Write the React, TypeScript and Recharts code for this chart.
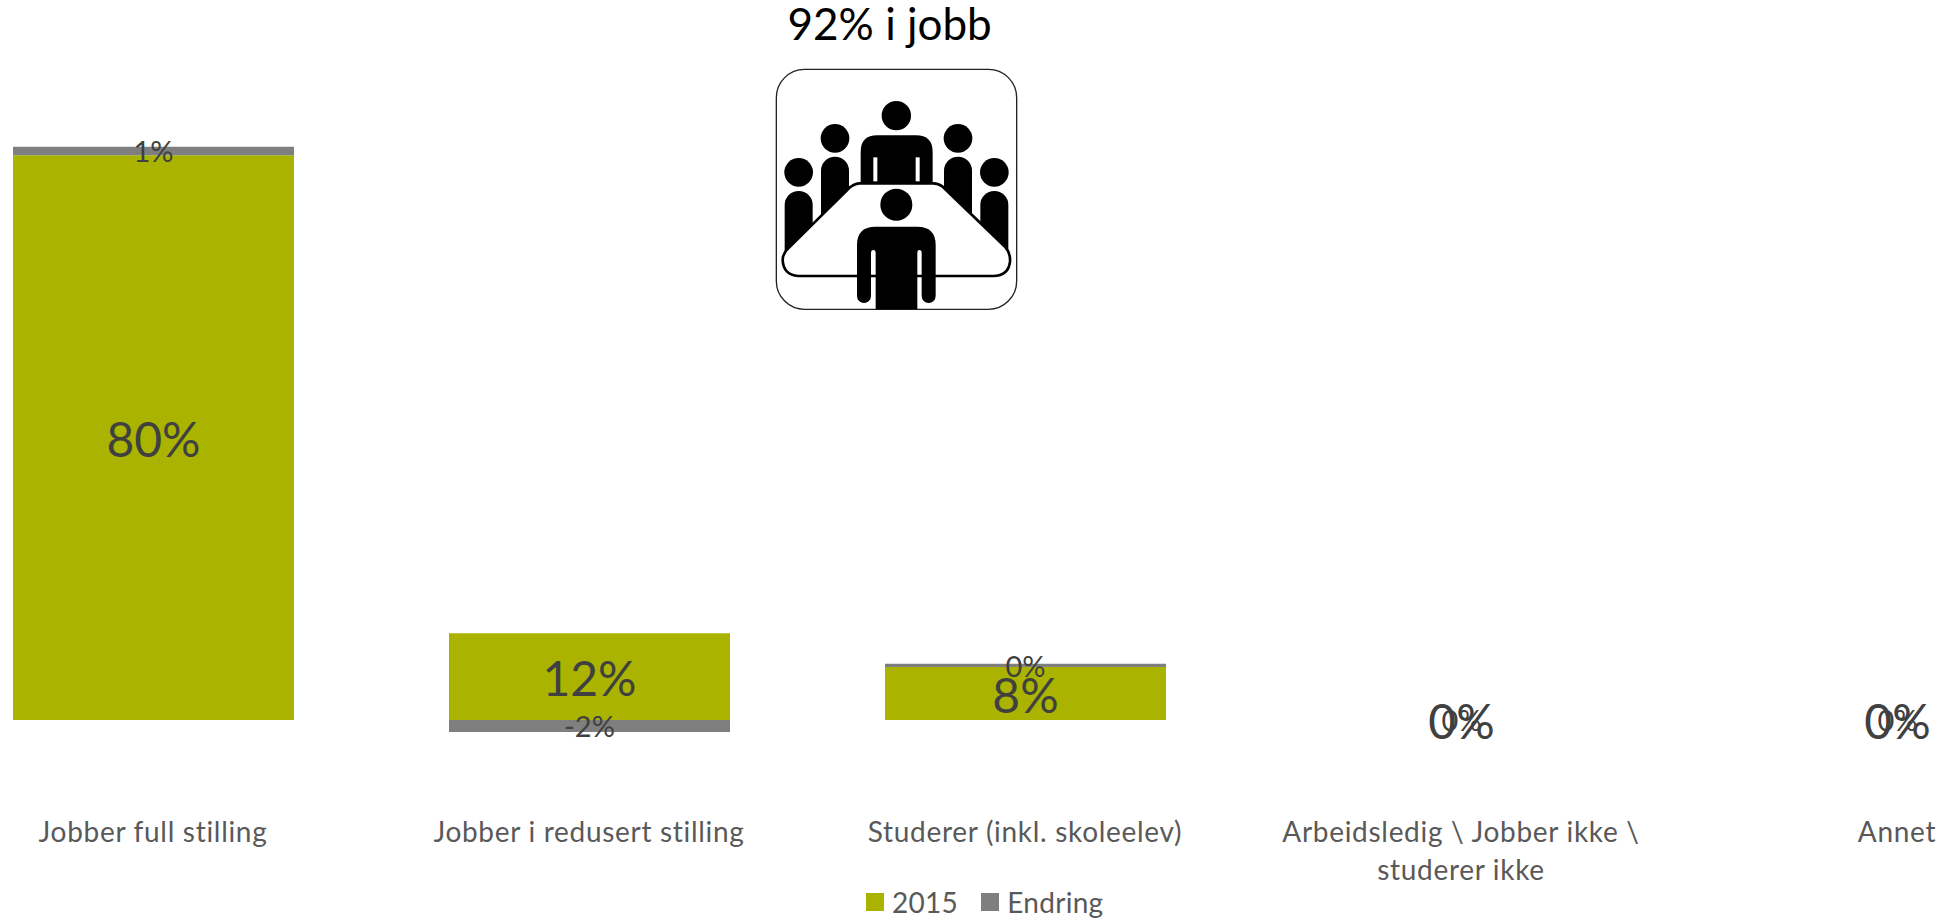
import { BarChart, Bar, XAxis, YAxis, Legend, LabelList } from 'recharts';

const categories = [
  'Jobber full stilling',
  'Jobber i redusert stilling',
  'Studerer (inkl. skoleelev)',
  'Arbeidsledig \\ Jobber ikke \\ studerer ikke',
  'Annet',
];
// last two groups read as 0% in the picture; a true 0 gets no label from Recharts
const values2015 = [80, 12.3, 7.5, 0.0001, 0.0001];
const valuesEndring = [1.2, -1.7, 0.47, 0.0001, 0.0001];

const rows = categories.map((name, i) => ({
  name,
  '2015': values2015[i],
  Endring: valuesEndring[i],
}));

const FONT = 'Lato, sans-serif';
const GREEN = '#AAB400';
const GREY = '#7F7F7F';
const pct = (v: number) => `${Math.round(v)}%`;

// only the long category breaks, right after the second backslash
const tickLines = (name: string) => {
  const cut = name.indexOf('\\ studerer');
  return cut < 0 ? [name] : [name.slice(0, cut + 1), name.slice(cut + 2)];
};

function CategoryTick({ x, y, payload }: any) {
  return (
    <text
      x={x}
      y={y + 43}
      textAnchor="middle"
      fill="#595959"
      fontFamily={FONT}
      fontSize={28}
      letterSpacing={0.7}
    >
      {tickLines(payload.value).map((line, i) => (
        <tspan key={line} x={x} dy={i === 0 ? 0 : 38}>
          {line}
        </tspan>
      ))}
    </text>
  );
}

function LegendRow({ payload }: any) {
  return (
    <div style={{ display: 'flex', alignItems: 'center', height: 30, fontFamily: FONT, fontSize: 28, letterSpacing: 0.3, color: '#595959' }}>
      {(payload || []).map((p: any) => (
        <span key={p.value} style={{ display: 'flex', alignItems: 'center', marginRight: 23 }}>
          <span style={{ width: 18, height: 18, background: p.color, marginRight: 8 }} />
          {p.value}
        </span>
      ))}
    </div>
  );
}

// the meeting-room pictogram above the bars
function MeetingIcon() {
  const side = (cx: number, headY: number, bodyTop: number, bottom: number, r: number) => (
    <g>
      <circle cx={cx} cy={headY} r={r + 1} />
      <path d={`M${cx - r} ${bottom} L${cx - r} ${bodyTop + r} A${r} ${r} 0 0 1 ${cx + r} ${bodyTop + r} L${cx + r} ${bottom} Z`} />
    </g>
  );
  return (
    <svg
      width={280}
      height={320}
      viewBox="0 0 840 960"
      style={{ position: 'absolute', left: 760, top: 0 }}
    >
      <text x={389} y={120} textAnchor="middle" fontFamily={FONT} fontSize={132} fill="#000">
        92% i jobb
      </text>
      <rect x={49} y={208} width={721} height={720} rx={85} fill="#fff" stroke="#222" strokeWidth={4} />
      {side(116, 517, 573, 770, 42)}
      {side(703, 517, 573, 770, 42)}
      {side(225, 415, 470, 660, 42)}
      {side(594, 415, 470, 660, 42)}
      <circle cx={409} cy={347} r={44} />
      <path d="M302 560 L302 456 Q302 406 352 406 L468 406 Q518 406 518 456 L518 560 Z" />
      <rect x={340} y={472} width={12} height={72} fill="#fff" />
      <rect x={467} y={472} width={12} height={72} fill="#fff" />
      <path
        d="M300 550 L520 550 Q535 550 548 560 L735 740 Q752 760 750 785 Q745 828 700 828 L115 828 Q70 825 68 780 Q68 760 85 745 L270 562 Q285 550 300 550 Z"
        fill="#fff"
        stroke="#000"
        strokeWidth={8}
      />
      <circle cx={409} cy={614} r={48} />
      <path d="M291 735 Q291 680 346 680 L472 680 Q527 680 527 735 L527 888 A21 21 0 0 1 485 888 L485 760 Q485 750 478 750 Q472 750 472 760 L472 928 L347 928 L347 760 Q347 750 340 750 Q333 750 333 760 L333 888 A21 21 0 0 1 291 888 Z" />
    </svg>
  );
}

export default function App() {
  return (
    <div style={{ position: 'absolute', left: 0, top: 0, width: 1953, height: 921, overflow: 'hidden', background: '#fff' }}>
      <div style={{ position: 'absolute', left: -65, top: 0 }}>
        <BarChart
          width={2180}
          height={921}
          data={rows}
          stackOffset="sign"
          barSize={281}
          margin={{ top: 14, right: 0, bottom: 0, left: 0 }}
        >
          <XAxis dataKey="name" interval={0} height={100.4} axisLine={false} tickLine={false} tick={<CategoryTick />} />
          <YAxis hide domain={[-10, 100]} />
          <Legend
            height={30}
            content={<LegendRow />}
            wrapperStyle={{ left: 931, bottom: 4, width: 400 }}
          />
          <Bar dataKey="2015" stackId="a" fill={GREEN} isAnimationActive={false}>
            <LabelList dataKey="2015" position="center" formatter={pct} fill="#404040" fontFamily={FONT} fontSize={48} dy={2} />
          </Bar>
          <Bar dataKey="Endring" stackId="a" fill={GREY} isAnimationActive={false}>
            <LabelList dataKey="Endring" position="center" formatter={pct} fill="#404040" fontFamily={FONT} fontSize={29} dy={1} />
          </Bar>
        </BarChart>
      </div>
      <MeetingIcon />
    </div>
  );
}
